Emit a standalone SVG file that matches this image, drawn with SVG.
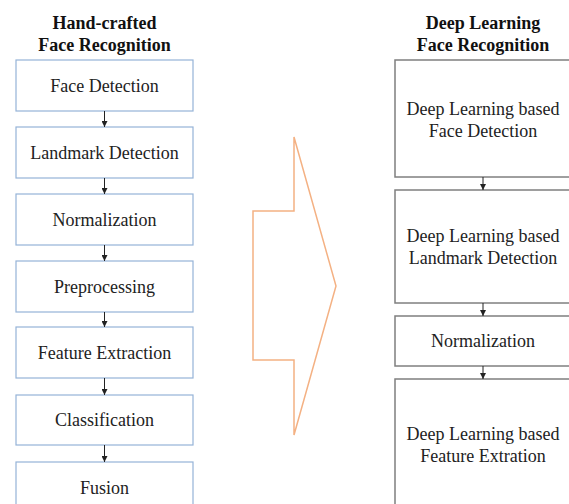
<svg xmlns="http://www.w3.org/2000/svg" width="569" height="504" viewBox="0 0 569 504">
<style>
text{font-family:'Liberation Serif','Times New Roman','DejaVu Serif',serif}
.t{font-size:18px;fill:#222;text-anchor:middle}
.h{font-size:18px;font-weight:bold;fill:#111;text-anchor:middle}
.lb{fill:#fff;stroke:#95b3d7;stroke-width:1.2}
.rb{fill:#fff;stroke:#7f7f7f;stroke-width:1.5}
.c{stroke:#222;stroke-width:1;fill:none;marker-end:url(#ah)}
</style>
<defs>
<marker id="ah" viewBox="0 0 6 6" refX="6" refY="3" markerWidth="6" markerHeight="6" markerUnits="userSpaceOnUse" orient="auto">
<path d="M0,0 L6,3 L0,6 Z" fill="#222"/>
</marker>
</defs>
<rect width="569" height="504" fill="#fff"/>
<g id="title-left" font-family="Liberation Serif, serif"><text class="h" x="104.5" y="29">Hand-crafted</text><text class="h" x="104.5" y="51">Face Recognition</text></g>
<g id="title-right"><text class="h" x="483" y="29">Deep Learning</text><text class="h" x="483" y="51">Face Recognition</text></g>
<g id="l1"><rect class="lb" x="16" y="60" width="177" height="51"/><text class="t" x="104.5" y="92">Face Detection</text></g>
<g id="l2"><rect class="lb" x="16" y="127" width="177" height="51"/><text class="t" x="104.5" y="159">Landmark Detection</text></g>
<g id="l3"><rect class="lb" x="16" y="194" width="177" height="51"/><text class="t" x="104.5" y="226">Normalization</text></g>
<g id="l4"><rect class="lb" x="16" y="261" width="177" height="51"/><text class="t" x="104.5" y="293">Preprocessing</text></g>
<g id="l5"><rect class="lb" x="16" y="327" width="177" height="51"/><text class="t" x="104.5" y="359">Feature Extraction</text></g>
<g id="l6"><rect class="lb" x="16" y="395" width="177" height="50"/><text class="t" x="104.5" y="426">Classification</text></g>
<g id="l7"><rect class="lb" x="16" y="462" width="177" height="51"/><text class="t" x="104.5" y="494">Fusion</text></g>
<g id="r1"><rect class="rb" x="395" y="60" width="176" height="117"/><text class="t" x="483" y="115">Deep Learning based</text><text class="t" x="483" y="137">Face Detection</text></g>
<g id="r2"><rect class="rb" x="395" y="190" width="176" height="113"/><text class="t" x="483" y="242">Deep Learning based</text><text class="t" x="483" y="264">Landmark Detection</text></g>
<g id="r3"><rect class="rb" x="395" y="316" width="176" height="50"/><text class="t" x="483" y="347">Normalization</text></g>
<g id="r4"><rect class="rb" x="395" y="379" width="176" height="132"/><text class="t" x="483" y="440">Deep Learning based</text><text class="t" x="483" y="462">Feature Extration</text></g>
<g id="big-arrow"><path d="M294,137 L294,211 L253,211 L253,360 L294,360 L294,435 L336,286 Z" fill="none" stroke="#f4b183" stroke-width="1.5" stroke-linejoin="miter"/></g>
<g id="connectors">
<line class="c" x1="104.5" y1="111" x2="104.5" y2="127"/>
<line class="c" x1="104.5" y1="178" x2="104.5" y2="194"/>
<line class="c" x1="104.5" y1="245" x2="104.5" y2="261"/>
<line class="c" x1="104.5" y1="312" x2="104.5" y2="327"/>
<line class="c" x1="104.5" y1="378" x2="104.5" y2="395"/>
<line class="c" x1="104.5" y1="445" x2="104.5" y2="462"/>
<line class="c" x1="483" y1="177" x2="483" y2="190"/>
<line class="c" x1="483" y1="303" x2="483" y2="316"/>
<line class="c" x1="483" y1="366" x2="483" y2="379"/>
</g>
</svg>
